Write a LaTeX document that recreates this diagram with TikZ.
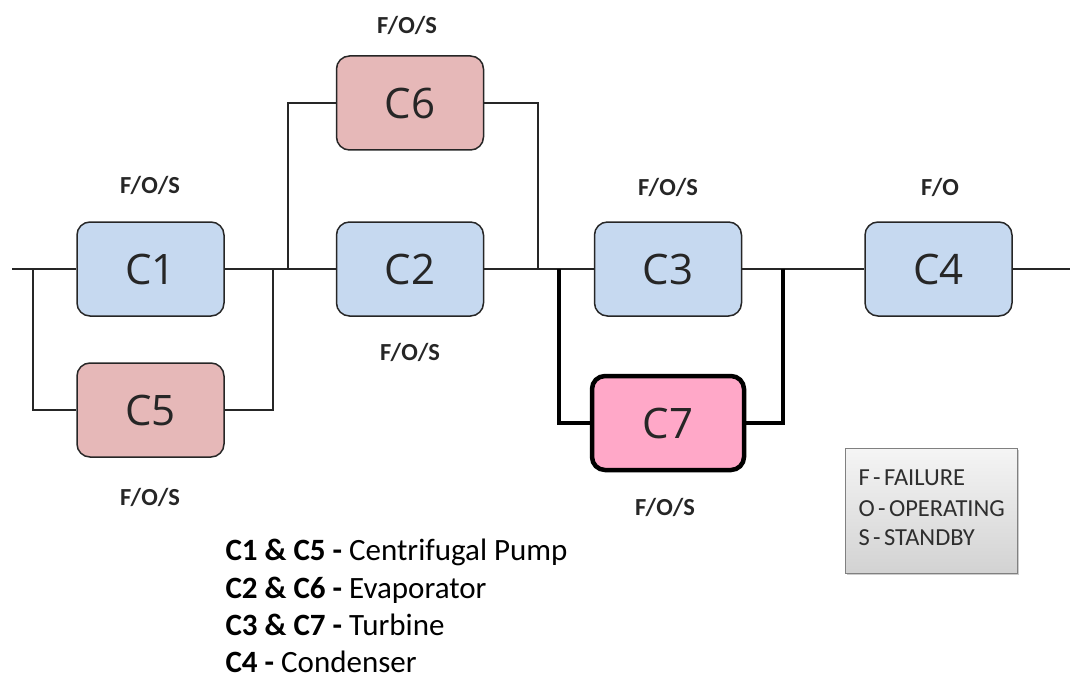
\documentclass[tikz,border=0pt]{standalone}
\usepackage{fontspec}
\setmainfont{Carlito}
\newfontfamily\boxfont{Open Sans}
\usetikzlibrary{positioning, shadows}
\usepackage{xcolor}
\definecolor{unitblue}{HTML}{C6D9F0}
\definecolor{unitrose}{HTML}{E6B8B8}
\definecolor{unitpink}{HTML}{FFA8C8}
\definecolor{linegrey}{HTML}{262626}
\definecolor{legendgrey}{HTML}{2E2E2E}
\newcommand{\keygap}{\spaceskip=0.14em\relax}

\begin{document}
\begin{tikzpicture}[x=1pt, y=-1pt,
  unit/.style={draw=linegrey, line width=1.5pt, rounded corners=13pt,
               minimum width=147pt, minimum height=94pt, text=linegrey,
               font=\boxfont\fontsize{42}{42}\selectfont},
  mode/.style={text=linegrey, font=\bfseries\fontsize{24.5}{24.5}\selectfont},
  listline/.style={anchor=base west, font=\fontsize{31}{31}\selectfont},
  keyline/.style={anchor=base west, text=legendgrey, font=\fontsize{24.5}{24.5}\selectfont},
  wire/.style={draw=linegrey, line width=1.6pt},
  heavywire/.style={draw=black, line width=4pt}]
  \useasboundingbox (0,0) rectangle (1070,679);

  % components
  \node[unit, fill=unitblue] (c1) at (150.5,269) {C1};
  \node[unit, fill=unitrose] (c5) at (150.5,410) {C5};
  \node[unit, fill=unitblue] (c2) at (410,269) {C2};
  \node[unit, fill=unitrose] (c6) at (410,103) {C6};
  \node[unit, fill=unitblue] (c3) at (668,269) {C3};
  \node[unit, fill=unitpink, draw=black, line width=4.5pt, minimum width=152pt] (c7) at (668,423) {C7};
  \node[unit, fill=unitblue] (c4) at (938.5,269) {C4};

  % junctions on the main line
  \coordinate (in)  at (12,269);
  \coordinate (j1)  at (33,269);
  \coordinate (j2)  at (273,269);
  \coordinate (j3)  at (288,269);
  \coordinate (j4)  at (538,269);
  \coordinate (j5)  at (559,269);
  \coordinate (j6)  at (783,269);
  \coordinate (out) at (1070,269);

  \draw[wire] (in) -- (c1.west) (c1.east) -- (c2.west) (c2.east) -- (c3.west)
              (c3.east) -- (c4.west) (c4.east) -- (out);
  \draw[wire] (j1) |- (c5.west) (c5.east) -| (j2);
  \draw[wire] (j3) |- (c6.west) (c6.east) -| (j4);
  \draw[heavywire] (j5) |- (c7.west) (c7.east) -| (j6);

  % states
  \node[mode] (s1) at (150,185) {F/O/S};
  \node[mode] (s5) at (150,497) {F/O/S};
  \node[mode] (s2) at (410,352) {F/O/S};
  \node[mode] (s6) at (407,25)  {F/O/S};
  \node[mode] (s3) at (668,187) {F/O/S};
  \node[mode] (s7) at (665,507) {F/O/S};
  \node[mode] (s4) at (940,187) {F/O};

  % key
  \node[draw=gray, line width=1pt, top color=gray!8, bottom color=gray!35,
        drop shadow={opacity=0.4}, minimum width=172pt, minimum height=125pt]
        (key) at (931,510.5) {};
  \node[keyline] (k1) at (855,485) {\keygap F - FAILURE};
  \node[keyline] (k2) at (855,516) {\keygap O - OPERATING};
  \node[keyline] (k3) at (855,545) {\keygap S - STANDBY};

  % component list
  \node[listline] (l1) at (222,560) {\textbf{C1 \& C5 -} Centrifugal Pump};
  \node[listline] (l2) at (222,598) {\textbf{C2 \& C6 -} Evaporator};
  \node[listline] (l3) at (222,635) {\textbf{C3 \& C7 -} Turbine};
  \node[listline] (l4) at (222,672) {\textbf{C4 -} Condenser};
\end{tikzpicture}
\end{document}
